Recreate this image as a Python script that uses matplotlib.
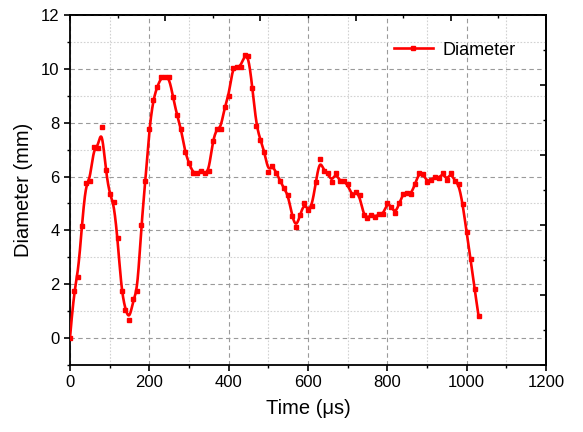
import numpy as np
import matplotlib
matplotlib.use("Agg")
import matplotlib.pyplot as plt
from matplotlib.lines import Line2D
from matplotlib.ticker import MultipleLocator

plt.rcParams['font.family'] = ['Liberation Sans', 'DejaVu Sans']

time_us = [0, 10, 20, 30, 40, 50, 60, 70, 80, 90,
           100, 110, 120, 130, 140, 150, 160, 170, 180, 190,
           200, 210, 220, 230, 240, 250, 260, 270, 280, 290,
           300, 310, 320, 330, 340, 350, 360, 370, 380, 390,
           400, 410, 420, 430, 440, 450, 460, 470, 480, 490,
           500, 510, 520, 530, 540, 550, 560, 570, 580, 590,
           600, 610, 620, 630, 640, 650, 660, 670, 680, 690,
           700, 710, 720, 730, 740, 750, 760, 770, 780, 790,
           800, 810, 820, 830, 840, 850, 860, 870, 880, 890,
           900, 910, 920, 930, 940, 950, 960, 970, 980, 990,
           1000, 1010, 1020, 1030]
diameter_mm = [0.00, 1.75, 2.27, 4.17, 5.75, 5.83, 7.08, 7.05, 7.85, 6.25,
               5.34, 5.06, 3.71, 1.75, 1.04, 0.67, 1.46, 1.75, 4.19, 5.83,
               7.78, 8.86, 9.34, 9.68, 9.68, 9.68, 8.94, 8.27, 7.78, 6.92,
               6.50, 6.14, 6.14, 6.20, 6.12, 6.20, 7.33, 7.78, 7.78, 8.59,
               8.98, 10.04, 10.08, 10.08, 10.50, 10.48, 9.28, 7.88, 7.37, 6.93,
               6.18, 6.41, 6.15, 5.83, 5.56, 5.30, 4.52, 4.11, 4.56, 5.00,
               4.75, 4.90, 5.81, 6.64, 6.20, 6.12, 5.81, 6.15, 5.82, 5.82,
               5.71, 5.31, 5.41, 5.31, 4.57, 4.47, 4.57, 4.51, 4.60, 4.61,
               5.03, 4.88, 4.63, 5.00, 5.36, 5.40, 5.35, 5.73, 6.12, 6.11,
               5.81, 5.88, 5.98, 5.93, 6.14, 5.86, 6.14, 5.84, 5.72, 4.98,
               3.93, 2.93, 1.82, 0.83]
series_label = "Diameter"
x_label = "Time (μs)"
y_label = "Diameter (mm)"


def clamped_bspline(px, py, samples=3000, k=3):
    P = np.column_stack([px, py]).astype(float)
    n = len(P)
    knots = np.concatenate([np.zeros(k), np.arange(n - k + 1), np.full(k, n - k)]).astype(float)
    u = np.linspace(0, n - k, samples)
    u[-1] -= 1e-9
    m = len(knots) - 1
    N = np.array([((knots[i] <= u) & (u < knots[i + 1])).astype(float) for i in range(m)])
    for d in range(1, k + 1):
        Nn = np.zeros((m - d, len(u)))
        for i in range(m - d):
            a = knots[i + d] - knots[i]
            b = knots[i + d + 1] - knots[i + 1]
            term = np.zeros(len(u))
            if a > 0:
                term += (u - knots[i]) / a * N[i]
            if b > 0:
                term += (knots[i + d + 1] - u) / b * N[i + 1]
            Nn[i] = term
        N = Nn
    C = N.T @ P
    return C[:, 0], C[:, 1]


fig = plt.figure(figsize=(5.83, 4.32), dpi=100)
ax = fig.add_axes([0.120, 0.155, 0.8165, 0.8103])

red = '#FF0000'
cx, cy = clamped_bspline(time_us, diameter_mm)
ax.plot(cx, cy, color=red, lw=1.9, zorder=3, solid_capstyle='round')
ax.plot(time_us, diameter_mm, ls='none', marker='s', ms=3.4, color=red,
        mec=red, zorder=4)

ax.set_xlim(0, 1200)
ax.set_ylim(-1, 12)
ax.xaxis.set_major_locator(MultipleLocator(200))
ax.xaxis.set_minor_locator(MultipleLocator(100))
ax.yaxis.set_major_locator(MultipleLocator(2))
ax.yaxis.set_minor_locator(MultipleLocator(1))

ax.grid(which='major', color='#9a9a9a', ls=(0, (4, 3)), lw=0.8, zorder=0)
ax.grid(which='minor', color='#d2d2d2', ls=(0, (1.5, 1.5)), lw=0.8, zorder=0)
ax.set_axisbelow(True)

ax.tick_params(which='major', direction='out', length=4.5, width=1.2,
               labelsize=12, top=False, right=False, pad=3)
ax.tick_params(which='minor', direction='out', length=2.5, width=1.0,
               top=False, right=False)
for s in ax.spines.values():
    s.set_linewidth(1.3)

# independent top / right axes (ticks only)
secx = ax.secondary_xaxis('top', functions=(lambda x: x / 1200.0, lambda x: x * 1200.0))
secx.set_xticks(np.array([0, 0.2, 0.4, 0.6, 0.8, 1.0]))
secx.xaxis.set_minor_locator(MultipleLocator(0.1))
secx.tick_params(which='major', direction='in', length=4.5, width=1.2, labeltop=False)
secx.tick_params(which='minor', direction='in', length=2.5, width=1.0)
secx.spines['top'].set_linewidth(1.3)

secy = ax.secondary_yaxis('right', functions=(lambda y: (y + 1) / 13.0, lambda y: y * 13.0 - 1))
secy.set_yticks(np.array([0, 0.2, 0.4, 0.6, 0.8, 1.0]))
secy.yaxis.set_minor_locator(MultipleLocator(0.1))
secy.tick_params(which='major', direction='in', length=4.5, width=1.2, labelright=False)
secy.tick_params(which='minor', direction='in', length=2.5, width=1.0)
secy.spines['right'].set_linewidth(1.3)

ax.set_xlabel(x_label, fontsize=14.5, labelpad=6)
ax.set_ylabel(y_label, fontsize=14.5, labelpad=6)

handle = Line2D([], [], color=red, lw=1.9, marker='s', ms=3.4, mec=red)
ax.legend([handle], [series_label], loc='upper right', bbox_to_anchor=(0.97, 0.97),
          frameon=False, fontsize=13, handlelength=2.2, handletextpad=0.5,
          numpoints=1)

fig.savefig('out.png', dpi=100)
